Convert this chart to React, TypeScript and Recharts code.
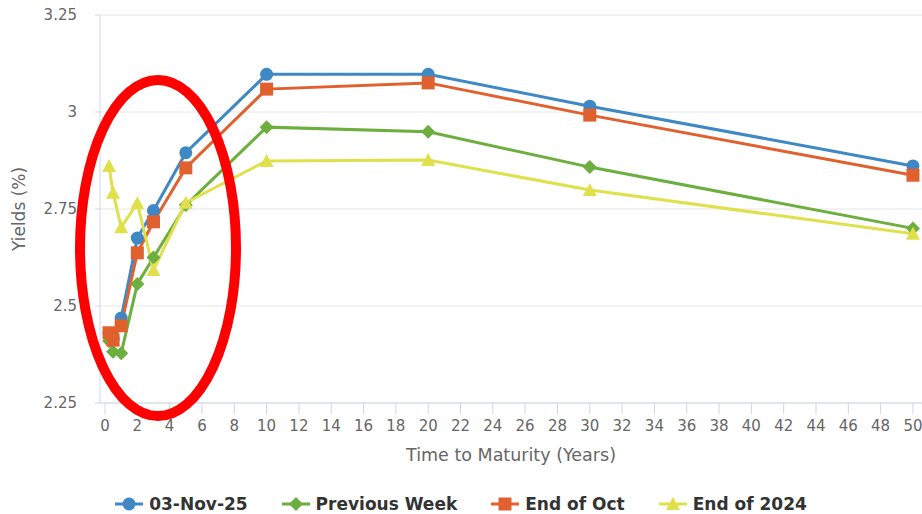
import { CartesianGrid, Line, LineChart, XAxis, YAxis } from "recharts";

// maturities in years
const maturities = [0.25, 0.5, 1, 2, 3, 5, 10, 20, 30, 50];

// yields (%)
const nov03 = [2.43, 2.415, 2.469, 2.675, 2.746, 2.895, 3.097, 3.097, 3.015, 2.861];
const prevWeek = [2.41, 2.382, 2.378, 2.557, 2.625, 2.76, 2.961, 2.949, 2.858, 2.7];
const endOct = [2.431, 2.412, 2.449, 2.637, 2.717, 2.856, 3.059, 3.075, 2.992, 2.837];
const end2024 = [2.861, 2.792, 2.703, 2.765, 2.593, 2.766, 2.874, 2.876, 2.799, 2.686];

const xTicks = [0, 2, 4, 6, 8, 10, 12, 14, 16, 18, 20, 22, 24, 26, 28, 30, 32, 34, 36, 38, 40, 42, 44, 46, 48, 50];
const yTicks = [2.25, 2.5, 2.75, 3, 3.25];

const series = [
  { key: "nov03", name: "03-Nov-25", color: "#3f88c6", shape: "circle" },
  { key: "prevWeek", name: "Previous Week", color: "#6caf3e", shape: "diamond" },
  { key: "endOct", name: "End of Oct", color: "#e0612e", shape: "square" },
  { key: "end2024", name: "End of 2024", color: "#dfe04a", shape: "triangle" },
];

const data = maturities.map((m, i) => ({
  m,
  nov03: nov03[i],
  prevWeek: prevWeek[i],
  endOct: endOct[i],
  end2024: end2024[i],
}));

const FONT = "'DejaVu Sans', sans-serif";

const Marker = ({ cx, cy, shape, color }: { cx: number; cy: number; shape: string; color: string }) => {
  if (cx == null || cy == null) return null;
  if (shape === "circle") return <circle cx={cx} cy={cy} r={6.5} fill={color} />;
  if (shape === "square") return <rect x={cx - 6.5} y={cy - 6.5} width={13} height={13} fill={color} />;
  if (shape === "diamond")
    return <path d={`M${cx},${cy - 7} L${cx + 7},${cy} L${cx},${cy + 7} L${cx - 7},${cy} Z`} fill={color} />;
  return <path d={`M${cx},${cy - 7} L${cx + 7},${cy + 6} L${cx - 7},${cy + 6} Z`} fill={color} />;
};

const YLabel = ({ viewBox }: any) => {
  const cy = viewBox.y + viewBox.height / 2;
  return (
    <text x={19} y={cy} transform={`rotate(-90 19 ${cy})`} textAnchor="middle" dominantBaseline="central" fill="#666" fontSize={17}>
      Yields (%)
    </text>
  );
};

const App = () => {
  return (
    <div style={{ position: "fixed", left: 0, top: 0, width: 922, height: 514, background: "#fff", fontFamily: FONT }}>
      <LineChart
        width={922}
        height={514}
        data={data}
        margin={{ top: 15, right: 0, bottom: 41, left: 0 }}
        style={{ fontFamily: FONT }}
      >
        <CartesianGrid horizontal vertical={false} stroke="#e6e6e6" />
        <XAxis
          dataKey="m"
          type="number"
          domain={[-0.31, 50.56]}
          ticks={xTicks}
          interval={0}
          height={70}
          tickSize={11}
          tickMargin={6}
          axisLine={{ stroke: "#ccd6eb" }}
          tickLine={{ stroke: "#ccd6eb" }}
          tick={{ fill: "#666", fontSize: 15 }}
          label={{ value: "Time to Maturity (Years)", position: "insideBottom", offset: 12, fill: "#666", fontSize: 17.5 }}
        />
        <YAxis
          type="number"
          domain={[2.25, 3.25]}
          ticks={yTicks}
          width={100}
          tickSize={5}
          tickMargin={18}
          axisLine={{ stroke: "#ccd6eb" }}
          tickLine={{ stroke: "#ccd6eb" }}
          tick={{ fill: "#666", fontSize: 15 }}
          label={{ content: YLabel }}
        />
        {series.map((s) => (
          <Line
            key={s.key}
            dataKey={s.key}
            name={s.name}
            type="linear"
            stroke={s.color}
            strokeWidth={3}
            isAnimationActive={false}
            dot={(p: any) => <Marker key={`${s.key}-${p.index}`} cx={p.cx} cy={p.cy} shape={s.shape} color={s.color} />}
            activeDot={false}
          />
        ))}
      </LineChart>

      <div
        style={{
          position: "absolute",
          left: 0,
          top: 494,
          width: 922,
          display: "flex",
          justifyContent: "center",
          gap: 34,
          fontWeight: 700,
          fontSize: 17,
          color: "#333",
        }}
      >
        {series.map((s) => (
          <div key={s.key} style={{ display: "flex", alignItems: "center", gap: 6 }}>
            <svg width={28} height={16}>
              <line x1={0} y1={8} x2={28} y2={8} stroke={s.color} strokeWidth={3} />
              <Marker cx={14} cy={8} shape={s.shape} color={s.color} />
            </svg>
            <span>{s.name}</span>
          </div>
        ))}
      </div>

      <svg width={922} height={514} style={{ position: "absolute", left: 0, top: 0, pointerEvents: "none" }}>
        <ellipse cx={158} cy={248} rx={78} ry={168} fill="none" stroke="#ff0000" strokeWidth={10} />
      </svg>
    </div>
  );
};

export default App;
